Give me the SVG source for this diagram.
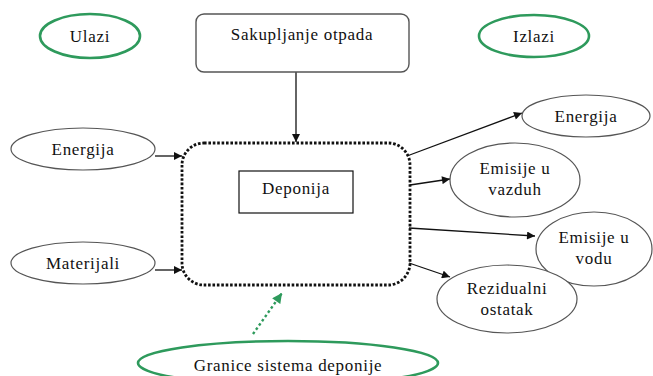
<svg xmlns="http://www.w3.org/2000/svg" width="653" height="376" viewBox="0 0 653 376">
  <defs>
    <style>
      text { font-family: "Liberation Serif", "Times New Roman", "DejaVu Serif", serif; font-size: 17px; fill: #111; text-anchor: middle; letter-spacing: 0.7px; }
      .oval { fill: #fff; stroke: #555; stroke-width: 1.2; }
      .tag { fill: #fff; stroke: #2e9a5c; stroke-width: 2.6; }
      .box { fill: #fff; stroke: #555; stroke-width: 1.4; }
      .flow { fill: none; stroke: #111; stroke-width: 1.3; marker-end: url(#head); }
      .boundary { fill: none; stroke: #111; stroke-width: 2.8; stroke-dasharray: 2.6 1.8; }
      .pointer { fill: none; stroke: #2e9a5c; stroke-width: 2.4; stroke-dasharray: 2.6 2.6; marker-end: url(#greenhead); }
    </style>
    <marker id="head" viewBox="0 0 10 10" refX="10" refY="5" markerWidth="10" markerHeight="8" markerUnits="userSpaceOnUse" orient="auto">
      <path d="M0,0 L10,5 L0,10 z" fill="#111"/>
    </marker>
    <marker id="greenhead" viewBox="0 0 10 10" refX="10" refY="5" markerWidth="11" markerHeight="10" markerUnits="userSpaceOnUse" orient="auto">
      <path d="M0,0 L10,5 L0,10 z" fill="#2e9a5c"/>
    </marker>
  </defs>

  <!-- connectors -->
  <g id="connectors">
    <line class="flow" x1="296" y1="72" x2="296" y2="142"/>
    <line class="flow" x1="155" y1="156" x2="182" y2="156"/>
    <line class="flow" x1="155" y1="270" x2="182" y2="270"/>
    <line class="flow" x1="407" y1="156" x2="522" y2="113"/>
    <line class="flow" x1="410" y1="185" x2="450" y2="179"/>
    <line class="flow" x1="409" y1="228" x2="535" y2="236"/>
    <line class="flow" x1="409" y1="263" x2="450" y2="277"/>
    <line class="pointer" x1="253" y1="334" x2="282" y2="293"/>
  </g>

  <!-- system boundary -->
  <g id="boundary">
    <rect class="boundary" x="182" y="143" width="228" height="142" rx="22" ry="22"/>
  </g>

  <g id="ulazi">
    <ellipse class="tag" cx="90" cy="36" rx="50" ry="22"/>
    <text x="90" y="42">Ulazi</text>
  </g>

  <g id="izlazi">
    <ellipse class="tag" cx="534" cy="36" rx="55" ry="21"/>
    <text x="534" y="42">Izlazi</text>
  </g>

  <g id="sakupljanje">
    <rect class="box" x="196" y="14" width="213" height="58" rx="8" ry="8"/>
    <text x="302" y="40">Sakupljanje otpada</text>
  </g>

  <g id="deponija">
    <rect x="239" y="171" width="114" height="42" fill="#fff" stroke="#111" stroke-width="1.2"/>
    <text x="296" y="194">Deponija</text>
  </g>

  <g id="energija-ulaz">
    <ellipse class="oval" cx="83" cy="149" rx="72" ry="21"/>
    <text x="83" y="155">Energija</text>
  </g>

  <g id="materijali">
    <ellipse class="oval" cx="83" cy="263" rx="72" ry="21"/>
    <text x="83" y="269">Materijali</text>
  </g>

  <g id="energija-izlaz">
    <ellipse class="oval" cx="586" cy="116" rx="64" ry="21"/>
    <text x="586" y="122">Energija</text>
  </g>

  <g id="emisije-vazduh">
    <ellipse class="oval" cx="515" cy="180" rx="65" ry="37"/>
    <text x="515" y="174">Emisije u</text>
    <text x="515" y="195">vazduh</text>
  </g>

  <g id="emisije-vodu">
    <ellipse class="oval" cx="594" cy="249" rx="58" ry="37"/>
    <text x="594" y="243">Emisije u</text>
    <text x="594" y="264">vodu</text>
  </g>

  <g id="rezidualni">
    <ellipse class="oval" cx="507" cy="299" rx="70" ry="34"/>
    <text x="507" y="294">Rezidualni</text>
    <text x="507" y="315">ostatak</text>
  </g>

  <g id="granice">
    <ellipse class="tag" cx="288" cy="363" rx="150" ry="22"/>
    <text x="288" y="371">Granice sistema deponije</text>
  </g>
</svg>
